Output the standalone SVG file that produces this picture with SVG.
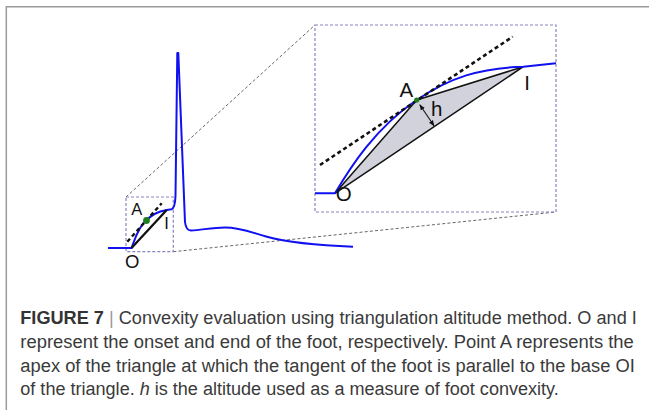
<svg xmlns="http://www.w3.org/2000/svg" width="649" height="410" viewBox="0 0 649 410">
<defs>
<style>
.frame{stroke:#9a9a9a;stroke-width:1.5;fill:none}
.box{fill:none;stroke:#8585c2;stroke-width:1.2;stroke-dasharray:3 2}
.conn{fill:none;stroke:#555;stroke-width:0.9;stroke-dasharray:3 2.2}
.sig{fill:none;stroke:#1010f0;stroke-width:2;stroke-linejoin:round}
.tan{fill:none;stroke:#111;stroke-dasharray:4 3}
.lbl{font-family:"Liberation Sans",Arial,sans-serif;fill:#111}
.cap{font-family:"Liberation Sans",Arial,sans-serif;font-size:18px;fill:#3a3a3a}
</style>
<marker id="ah" viewBox="0 0 10 10" refX="9" refY="5" markerWidth="6" markerHeight="6" orient="auto-start-reverse" markerUnits="userSpaceOnUse">
<path d="M0,1 L10,5 L0,9 Z" fill="#111"/>
</marker>
</defs>
<rect width="649" height="410" fill="#fff"/>
<path class="frame" d="M6.3,410 V6.8 H649"/>

<g id="connectors">
<line class="conn" x1="126" y1="197" x2="315" y2="25"/>
<line class="conn" x1="173.3" y1="251.7" x2="556" y2="212"/>
</g>

<g id="small-box">
<rect class="box" x="126" y="197" width="47.3" height="54.7"/>
</g>

<g id="signal">
<path class="sig" d="M108,248 L131.5,248 C134.5,241 137.5,228 146,220.5 C152,215 157,211.5 166.7,210 L171.5,209.3 Q175,208.5 175.5,196 L177.3,53 L178.3,53 L185,222 Q186,230.5 191,230.5 C202,230 212,227.5 225,227.5 C240,227.5 250,232 266,236.5 C290,243 320,245.5 353,246.7"/>
<line x1="131.5" y1="248" x2="166.7" y2="210" stroke="#111" stroke-width="2.3"/>
<line class="tan" x1="127.3" y1="241.7" x2="161.7" y2="203.3" stroke-width="2.4"/>
<circle cx="146.5" cy="220.5" r="3.4" fill="#1e7d1e"/>
<text class="lbl" x="131.3" y="215" font-size="16.5">A</text>
<text class="lbl" x="164.3" y="229.3" font-size="16.5">I</text>
<text class="lbl" x="125" y="267.5" font-size="18.5">O</text>
</g>

<g id="zoom-box">
<rect class="box" x="315" y="25" width="241" height="187"/>
<polygon points="335,193.3 416.7,100 523.3,66.7" fill="#d2d2dc" stroke="#111" stroke-width="1.5" stroke-linejoin="round"/>
<path class="sig" d="M315,193.3 L335,193.3 C350,168 375,128 416.7,100 C450,77.5 480,68 523.3,66.7 L556,63.3"/>
<line class="tan" x1="320" y1="165" x2="512.7" y2="36.7" stroke-width="2.6"/>
<circle cx="416.7" cy="100" r="2.6" fill="#1e7d1e"/>
<line x1="419.8" y1="104.8" x2="434" y2="125.8" stroke="#111" stroke-width="1.1" marker-start="url(#ah)" marker-end="url(#ah)"/>
<text class="lbl" x="399.5" y="96.5" font-size="20.5">A</text>
<text class="lbl" x="524.2" y="90" font-size="20.5">I</text>
<text class="lbl" x="335.8" y="200.5" font-size="20.5">O</text>
<text class="lbl" x="431" y="115.5" font-size="20.5">h</text>
</g>

<g id="caption">
<text class="cap" x="20.3" y="323.5" textLength="616.5" lengthAdjust="spacingAndGlyphs"><tspan font-weight="bold" fill="#333">FIGURE 7</tspan> <tspan fill="#9a9a9a">|</tspan> Convexity evaluation using triangulation altitude method. O and I</text>
<text class="cap" x="20.3" y="347.5" textLength="613.5" lengthAdjust="spacingAndGlyphs">represent the onset and end of the foot, respectively. Point A represents the</text>
<text class="cap" x="20.3" y="371.5" textLength="614.5" lengthAdjust="spacingAndGlyphs">apex of the triangle at which the tangent of the foot is parallel to the base OI</text>
<text class="cap" x="20.3" y="395.3" textLength="538.5" lengthAdjust="spacingAndGlyphs">of the triangle. <tspan font-style="italic">h</tspan> is the altitude used as a measure of foot convexity.</text>
</g>
</svg>
